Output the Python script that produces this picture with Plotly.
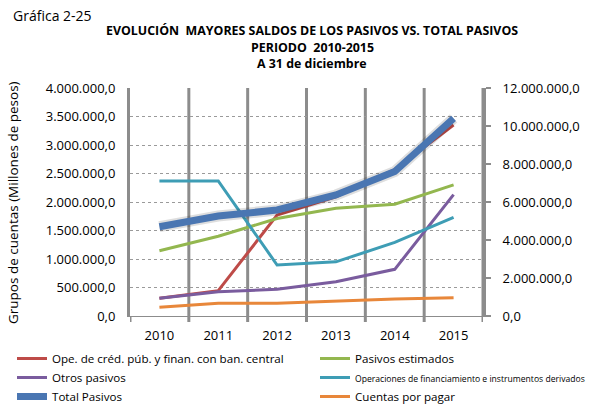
import plotly.graph_objects as go

years = ["2010", "2011", "2012", "2013", "2014", "2015"]
ope_cred = [310000, 444000, 1770000, 2090000, 2570000, 3350000]
pasivos_estimados = [1146000, 1400000, 1710000, 1890000, 1960000, 2300000]
otros_pasivos = [310000, 427000, 468000, 602000, 819000, 2130000]
operaciones_fin = [2370000, 2370000, 895000, 950000, 1290000, 1730000]
total_pasivos = [4700000, 5260000, 5580000, 6370000, 7600000, 10400000]
cuentas_pagar = [152000, 222000, 222000, 263000, 298000, 322000]

FONT = "Open Sans"
GRID = "#8c8c8c"

fig = go.Figure()

def add(name, y, color, width=3, axis="y", show=True, legend="legend"):
    fig.add_trace(go.Scatter(x=years, y=y, name=name, mode="lines",
                             line=dict(color=color, width=width),
                             yaxis=axis, showlegend=show, legend=legend, hoverinfo="skip"))

add("Ope. de créd. púb. y finan. con ban. central", ope_cred, "#BE4B48")
add("Pasivos estimados", pasivos_estimados, "#93B74F", legend="legend2")
add("Otros pasivos", otros_pasivos, "#7A5C9E")
add('<span style="font-size:8.6px">Operaciones de financiamiento e instrumentos derivados</span>',
    operaciones_fin, "#3E9DB5", legend="legend2")
add("Cuentas por pagar", cuentas_pagar, "#E8873A", legend="legend2")
# soft shadow under the total line
add("shadow", total_pasivos, "rgba(0,0,0,0.13)", width=11, axis="y2", show=False)
add("Total Pasivos", total_pasivos, "#4A76B2", width=7, axis="y2")

def py(pix):
    return (316 - pix) / 228

def px(pix):
    return (pix - 130) / 353

title_lines = ["EVOLUCIÓN  MAYORES SALDOS DE LOS PASIVOS VS. TOTAL PASIVOS",
               "PERIODO  2010-2015", "A 31 de diciembre"]
ann = []
for i, t in enumerate(title_lines):
    ann.append(dict(text="<b>" + t + "</b>", xref="paper", yref="paper", x=px(312), y=py(30 + 17 * i),
                    xanchor="center", yanchor="middle", showarrow=False,
                    font=dict(family=FONT, size=12.4, color="#000")))
ann += [
    dict(text="Gráfica 2-25", xref="paper", yref="paper", x=px(11), y=py(15),
         xanchor="left", yanchor="middle", showarrow=False, font=dict(family=FONT, size=14)),
    dict(text="Grupos de cuentas (Millones de pesos)", xref="paper", yref="paper",
         x=px(13), y=0.5, xanchor="center", yanchor="middle", textangle=-90,
         showarrow=False, font=dict(family=FONT, size=13.5)),
    dict(text="Total Pasivos (Millones de pesos)", xref="paper", yref="paper",
         x=px(601), y=0.5, xanchor="center", yanchor="middle", textangle=-90,
         showarrow=False, font=dict(family=FONT, size=13.5)),
]

# thick vertical separators at the category boundaries (with tick stubs below the axis)
shapes = []
for k in range(1, len(years) + 1):
    shapes.append(dict(type="line", xref="x", yref="paper", x0=k - 0.5, x1=k - 0.5,
                       y0=-6 / 228, y1=1, layer="below", line=dict(color=GRID, width=3)))
shapes.append(dict(type="line", xref="x", yref="paper", x0=-0.5, x1=-0.5,
                   y0=-6 / 228, y1=0, layer="below", line=dict(color=GRID, width=3)))

leg_common = dict(orientation="h", xref="container", yref="container", xanchor="left",
                  y=1 - 344 / 404, yanchor="top", itemwidth=30, font=dict(family=FONT, size=11.6),
                  tracegroupgap=0, bgcolor="rgba(0,0,0,0)", traceorder="normal",
                  entrywidth=240, entrywidthmode="pixels")

fig.update_layout(
    width=595, height=404, autosize=False,
    margin=dict(l=130, r=112, t=88, b=88, autoexpand=False),
    paper_bgcolor="white", plot_bgcolor="white",
    separators=",.",
    font=dict(family=FONT, size=13, color="#000"),
    xaxis=dict(type="category", range=[-0.5, 5.5], showgrid=False, ticks="",
               showline=True, linecolor=GRID, linewidth=1, zeroline=False,
               tickfont=dict(size=13), ticklabelstandoff=7),
    yaxis=dict(range=[0, 4000000], dtick=500000, tickformat=",.1f",
               showgrid=True, gridcolor="#9a9a9a", gridwidth=1, griddash="dot",
               showline=True, linecolor=GRID, linewidth=3, zeroline=False,
               ticks="", ticklabelstandoff=9, tickfont=dict(size=13)),
    yaxis2=dict(range=[0, 12000000], dtick=2000000, tickformat=",.1f", overlaying="y", side="right",
                showgrid=False, showline=True, linecolor=GRID, linewidth=3, zeroline=False,
                ticks="outside", ticklen=5, tickwidth=2, tickcolor=GRID,
                ticklabelstandoff=9, tickfont=dict(size=13)),
    legend=dict(x=12 / 595, **leg_common),
    legend2=dict(x=315 / 595, **leg_common),
    annotations=ann,
    shapes=shapes,
)

fig.write_html("out.html", post_script="document.body.style.margin='0';",
               config={"displayModeBar": False})
